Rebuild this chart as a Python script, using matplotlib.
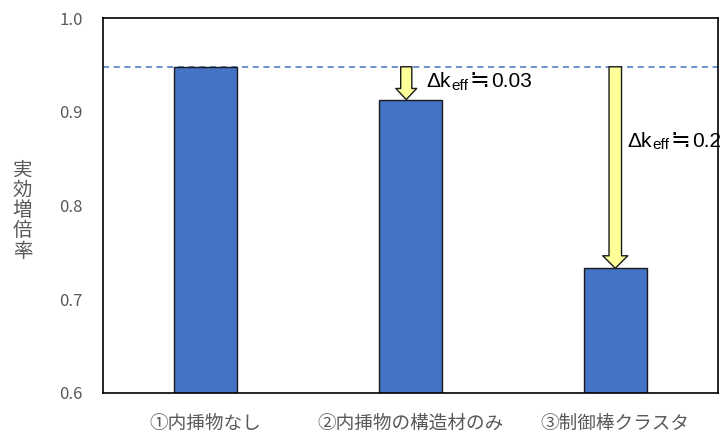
import matplotlib.pyplot as plt

plt.rcParams['font.family'] = ['Noto Sans CJK JP', 'DejaVu Sans']

categories = ["①内挿物なし", "②内挿物の構造材のみ", "③制御棒クラスタ"]
keff = [0.948, 0.913, 0.733]
ref_keff = 0.948
deltas = ["0.03", "0.2"]
yticks = [0.6, 0.7, 0.8, 0.9, 1.0]

gray = "#595959"
blue = "#4472C4"
lat = "Liberation Sans"
sym = ["DejaVu Sans", "Noto Sans CJK SC", "Noto Sans CJK JP"]

fig = plt.figure(figsize=(7.25, 4.4), dpi=100)
ax = fig.add_axes([0.142, 0.107, 0.848, 0.852])

x = range(len(categories))
ax.bar(x, keff, width=0.31, color=blue, edgecolor="#1a1a1a", linewidth=1.0, zorder=2)
ax.axhline(ref_keff, color=blue, linestyle=(0, (4, 3)), linewidth=1.1, zorder=1)

# arrows showing the drop in k from the reference level
arrow_x = [1 - 0.02, 2]
arrow_style = [
    "simple,tail_width=8,head_width=15,head_length=8",
    "simple,tail_width=9,head_width=18,head_length=9",
]
for i, xa in enumerate(arrow_x):
    ax.annotate("", xy=(xa, keff[i + 1]), xytext=(xa, ref_keff),
                arrowprops=dict(arrowstyle=arrow_style[i], mutation_scale=1,
                                fc="#FFFF99", ec="#1a1a1a", lw=1.0,
                                shrinkA=0, shrinkB=0), zorder=3)

# "Δk_eff ≒ value" built piece by piece, all on one baseline
label_pos = [(1.080, 0.9267), (2.061, 0.8627)]
for (lx, ly), d in zip(label_pos, deltas):
    t1 = ax.text(lx, ly, "Δk", fontsize=15, family=lat, va="baseline", ha="left", zorder=4)
    t2 = ax.annotate("eff", xy=(1, ly), xycoords=(t1, "data"), xytext=(0.3, -2),
                     textcoords="offset points", fontsize=11, family=lat,
                     va="baseline", ha="left", zorder=4)
    t3 = ax.annotate("≒", xy=(1, ly), xycoords=(t2, "data"), xytext=(0.5, 0),
                     textcoords="offset points", fontsize=17, family=sym,
                     va="baseline", ha="left", zorder=4)
    ax.annotate(d, xy=(1, ly), xycoords=(t3, "data"), xytext=(1.5, 0),
                textcoords="offset points", fontsize=15, family=lat,
                va="baseline", ha="left", zorder=4)

ax.set_xlim(-0.5, 2.5)
ax.set_ylim(0.6, 1.0)
ax.set_yticks(yticks)
ax.set_yticklabels([f"{v:.1f}" for v in yticks])
ax.set_xticks(list(x))
ax.set_xticklabels(categories)
ax.tick_params(axis="both", length=0, colors=gray)
ax.tick_params(axis="x", pad=16, labelsize=13.4)
ax.tick_params(axis="y", pad=14.5, labelsize=12)
for s in ax.spines.values():
    s.set_linewidth(1.2)
    s.set_color("black")

fig.text(0.031, 0.521, "実\n効\n増\n倍\n率", color=gray, fontsize=14,
         ha="center", va="center", linespacing=0.95)

plt.savefig("out.png")
